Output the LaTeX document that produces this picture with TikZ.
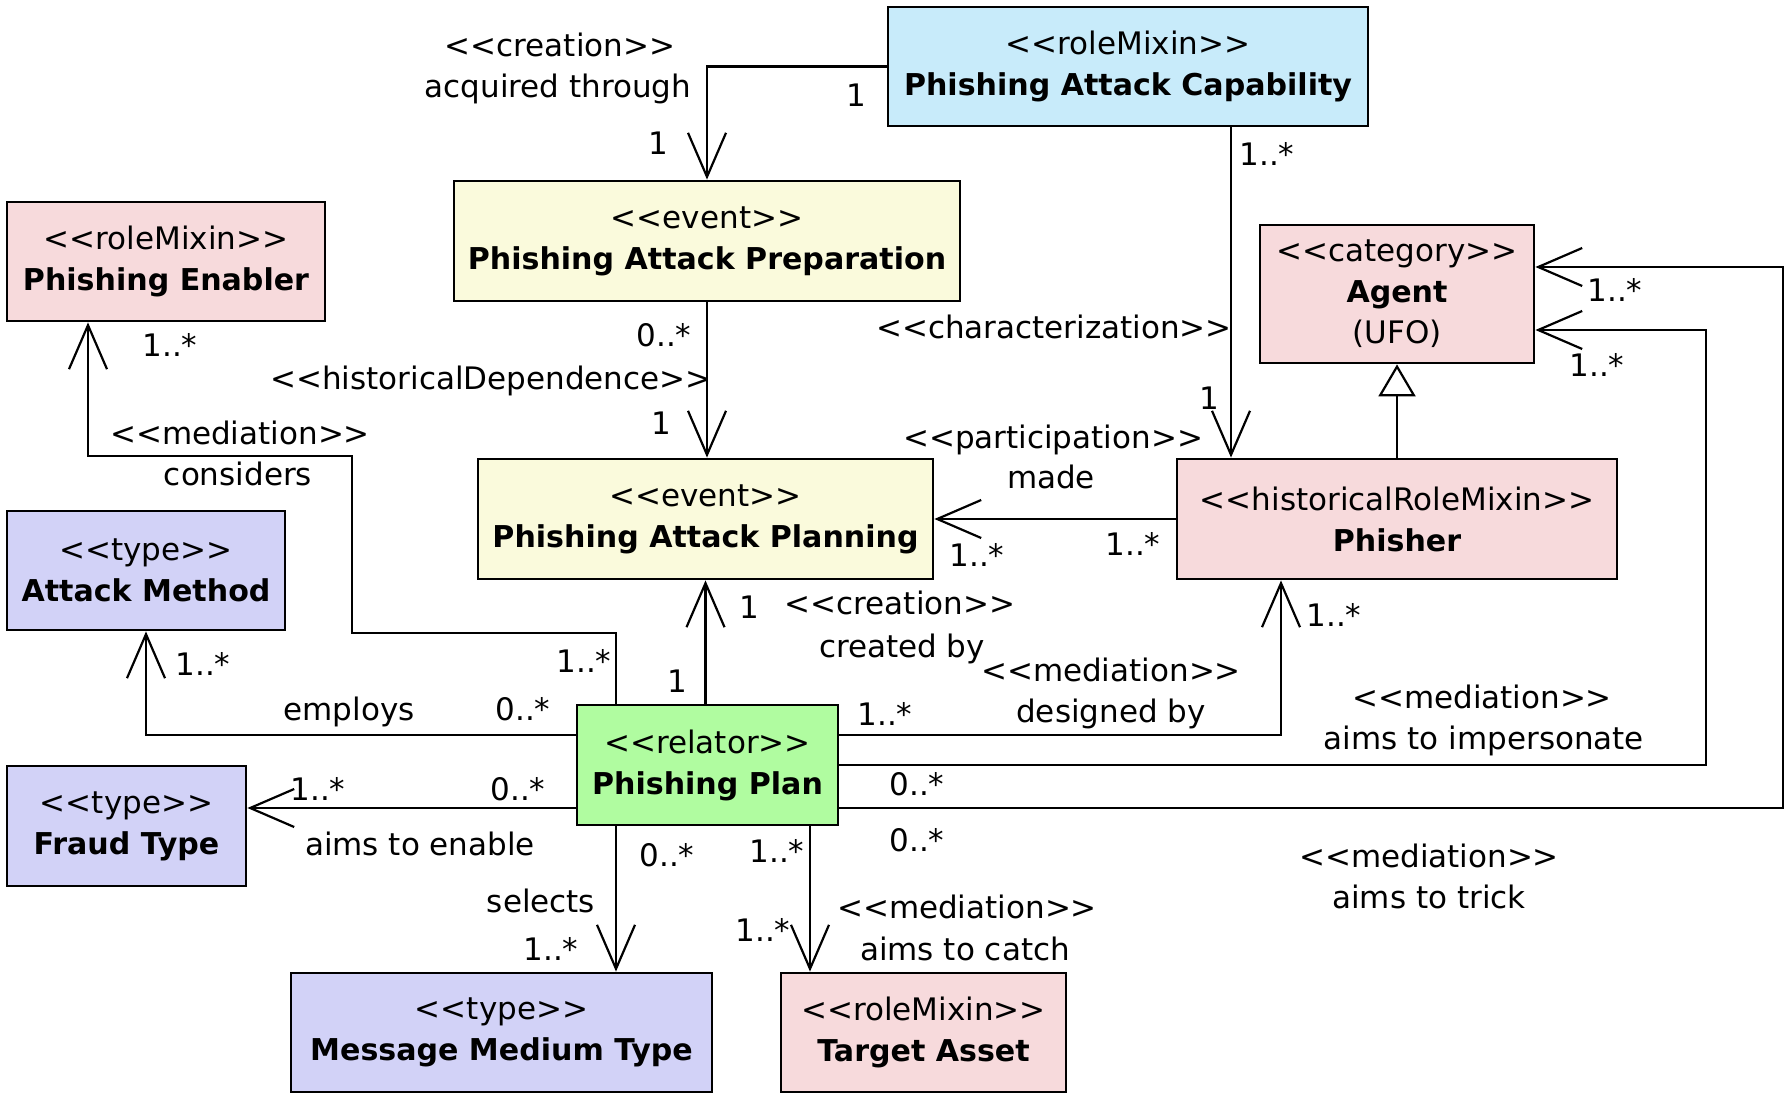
\documentclass[tikz,border=0pt]{standalone}
\usepackage{fontspec}
\setmainfont{DejaVu Sans}[Ligatures=TeXOff, BoldFeatures={Scale=0.97}]
\usetikzlibrary{arrows.meta,calc}
\definecolor{cblue}{RGB}{200,235,250}
\definecolor{cyellow}{RGB}{250,250,220}
\definecolor{cpink}{RGB}{247,218,220}
\definecolor{clav}{RGB}{210,210,247}
\definecolor{cgreen}{RGB}{176,252,160}
\tikzset{
 umlbox/.style={draw, line width=1.4pt, align=center, inner sep=0pt, font=\fontsize{15.5}{20.5}\selectfont},
 assoc/.style={line width=1.1pt, -{Straight Barb[length=22pt,width=19pt]}},
 gen/.style={line width=1.1pt, -{Triangle[open,length=16pt,width=18.5pt,fill=white]}},
 lbl/.style={inner sep=0pt, text height=11pt, text depth=0pt, font=\fontsize{15.5}{20.5}\selectfont},
}
\begin{document}
\begin{tikzpicture}[x=0.5pt,y=-0.5pt]
\useasboundingbox[fill=white] (0,0) rectangle (1792,1096);
% boxes
\node[umlbox, fill=cblue, minimum width=240pt, minimum height=59.5pt] (cap) at (1128,66.5) {<<roleMixin>>\\\textbf{Phishing Attack Capability}};
\node[umlbox, fill=cyellow, minimum width=253pt, minimum height=60pt] (prep) at (707,241) {<<event>>\\\textbf{Phishing Attack Preparation}};
\node[umlbox, fill=cpink, minimum width=159pt, minimum height=59.5pt] (enabler) at (166,261.5) {<<roleMixin>>\\\textbf{Phishing Enabler}};
\node[umlbox, fill=cpink, minimum width=137pt, minimum height=69pt] (agent) at (1397,294) {<<category>>\\\textbf{Agent}\\(UFO)};
\node[umlbox, fill=cyellow, minimum width=227.5pt, minimum height=60pt] (planning) at (705.5,519) {<<event>>\\\textbf{Phishing Attack Planning}};
\node[umlbox, fill=cpink, minimum width=220pt, minimum height=60pt] (phisher) at (1397,519) {<<historicalRoleMixin>>\\\textbf{Phisher}};
\node[umlbox, fill=clav, minimum width=139pt, minimum height=59.5pt] (amethod) at (146,570.5) {<<type>>\\\textbf{Attack Method}};
\node[umlbox, fill=cgreen, minimum width=130.5pt, minimum height=60pt] (pplan) at (707.5,765) {<<relator>>\\\textbf{Phishing Plan}};
\node[umlbox, fill=clav, minimum width=119.5pt, minimum height=60pt] (fraud) at (126.5,826) {<<type>>\\\textbf{Fraud Type}};
\node[umlbox, fill=clav, minimum width=210.5pt, minimum height=59.5pt] (mmt) at (501.5,1032.5) {<<type>>\\\textbf{Message Medium Type}};
\node[umlbox, fill=cpink, minimum width=142.5pt, minimum height=59.5pt] (target) at (923.5,1032.5) {<<roleMixin>>\\\textbf{Target Asset}};
% helper coordinates
\coordinate (xa) at (1231,0);
\coordinate (xi) at (1706,0);
\coordinate (xt) at (1783,0);
\coordinate (xe) at (616,0);
\coordinate (xg) at (810,0);
\coordinate (ai) at ([yshift=-18pt]agent.east);
\coordinate (at) at ([yshift=13.5pt]agent.east);
\coordinate (pt) at ([yshift=-21.5pt]pplan.east);
\coordinate (pw) at ([yshift=-21.5pt]pplan.west);
\coordinate (e1) at (352,633);
\coordinate (e2) at (352,456);
% connectors
\draw[assoc] (cap.west) -| (prep.north);
\draw[assoc] (cap.south -| xa) -- (phisher.north -| xa);
\draw[assoc] (prep.south) -- (prep.south |- planning.north);
\draw[assoc] (phisher.west) -- (planning.east);
\draw[gen] (phisher.north) -- (agent.south);
\draw[assoc] (planning.south |- pplan.north) -- (planning.south);
\draw[assoc] ([yshift=15pt]pplan.east) -| ([xshift=-58pt]phisher.south);
\draw[assoc] (pplan.east) -| (xi |- ai) -- (ai);
\draw[assoc] (pt) -| (xt |- at) -- (at);
\draw[assoc] (pplan.north -| xe) |- (e1) -- (e2) -| ([xshift=-39pt]enabler.south);
\draw[assoc] ([yshift=15pt]pplan.west) -| (amethod.south);
\draw[assoc] (pw) -- (fraud.east |- pw);
\draw[assoc] (pplan.south -| xe) -- (mmt.north -| xe);
\draw[assoc] (pplan.south -| xg) -- (target.north -| xg);
% labels
\node[lbl] (l1) at (560,46) {<<creation>>};
\node[lbl] (l2) at (558,87) {acquired through};
\node[lbl] (l3) at (856,96) {1};
\node[lbl] (l4) at (658,144) {1};
\node[lbl] (l5) at (1267,155) {1..*};
\node[lbl] (l6) at (1054,328) {<<characterization>>};
\node[lbl] (l7) at (1209,398) {1};
\node[lbl] (l8) at (664,336) {0..*};
\node[lbl] (l9) at (491,378) {<<historicalDependence>>};
\node[lbl] (l10) at (661,423) {1};
\node[lbl] (l11) at (1053,437) {<<participation>>};
\node[lbl] (l12) at (1051,477) {made};
\node[lbl] (l13) at (977,555) {1..*};
\node[lbl] (l14) at (1133,544) {1..*};
\node[lbl] (l15) at (749,607) {1};
\node[lbl] (l16) at (900,603) {<<creation>>};
\node[lbl] (l17) at (902,646) {created by};
\node[lbl] (l18) at (677,681) {1};
\node[lbl] (l19) at (1111,670) {<<mediation>>};
\node[lbl] (l20) at (1111,711) {designed by};
\node[lbl] (l21) at (885,714) {1..*};
\node[lbl] (l22) at (1334,615) {1..*};
\node[lbl] (l23) at (1482,697) {<<mediation>>};
\node[lbl] (l24) at (1484,738) {aims to impersonate};
\node[lbl] (l25) at (917,784) {0..*};
\node[lbl] (l26) at (917,840) {0..*};
\node[lbl] (l27) at (1429,856) {<<mediation>>};
\node[lbl] (l28) at (1429,897) {aims to trick};
\node[lbl] (l29) at (1615,291) {1..*};
\node[lbl] (l30) at (1597,366) {1..*};
\node[lbl] (l31) at (170,346) {1..*};
\node[lbl] (l32) at (240,433) {<<mediation>>};
\node[lbl] (l33) at (238,474) {considers};
\node[lbl] (l34) at (584,661) {1..*};
\node[lbl] (l35) at (203,664) {1..*};
\node[lbl] (l36) at (349,709) {employs};
\node[lbl] (l37) at (523,709) {0..*};
\node[lbl] (l38) at (318,789) {1..*};
\node[lbl] (l39) at (518,789) {0..*};
\node[lbl] (l40) at (420,844) {aims to enable};
\node[lbl] (l41) at (667,855) {0..*};
\node[lbl] (l42) at (541,901) {selects};
\node[lbl] (l43) at (551,949) {1..*};
\node[lbl] (l44) at (777,851) {1..*};
\node[lbl] (l45) at (763,930) {1..*};
\node[lbl] (l46) at (967,907) {<<mediation>>};
\node[lbl] (l47) at (965,949) {aims to catch};
\end{tikzpicture}
\end{document}
